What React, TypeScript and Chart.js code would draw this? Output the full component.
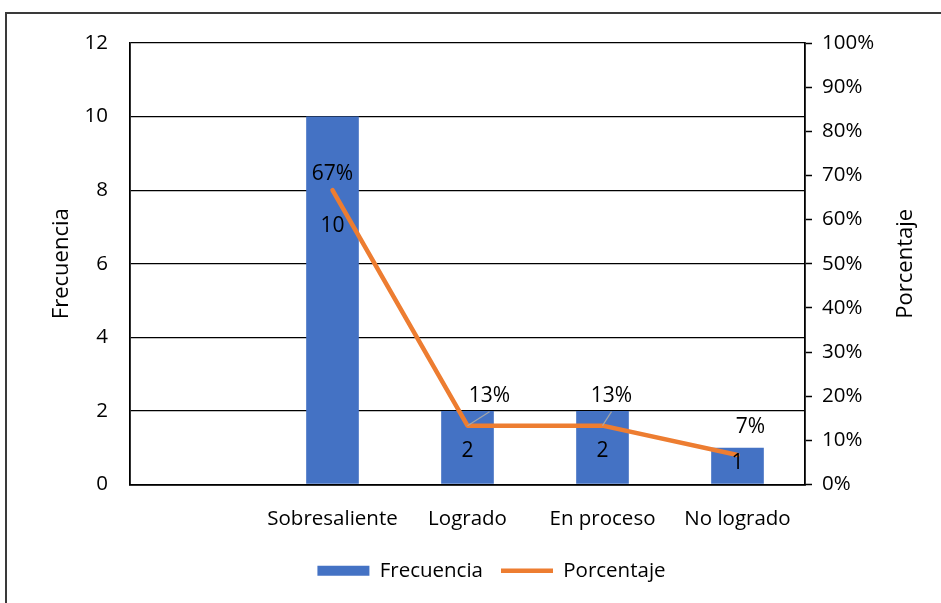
import { useEffect, useRef } from 'react';
import { Chart, registerables } from 'chart.js';

Chart.register(...registerables);

const categories = ['', 'Sobresaliente', 'Logrado', 'En proceso', 'No logrado'];
const frecuencia: (number | null)[] = [null, 10, 2, 2, 1];
const porcentaje: (number | null)[] = [null, 66.67, 13.33, 13.33, 6.67];
const freqAxis = { min: 0, max: 12, step: 2 };
const pctAxis = { min: 0, max: 100, step: 10 };
const rightTitle = 'Porcentaje';

const FONT = '"Open Sans", Lato, sans-serif';
const TICK_SIZE = 20.5;

const labelPlugin = {
  id: 'valueLabels',
  afterDatasetsDraw(chart: any, _args: any, opts: any) {
    const ctx = chart.ctx as CanvasRenderingContext2D;
    ctx.save();
    ctx.font = `21px ${FONT}`;
    ctx.fillStyle = '#000';
    ctx.textAlign = 'center';
    ctx.textBaseline = 'middle';
    const barMeta = chart.getDatasetMeta(0);
    barMeta.data.forEach((el: any, i: number) => {
      const v = frecuencia[i];
      if (v == null) return;
      const dy = opts.barDy[i] ?? 0;
      ctx.fillText(String(v), el.x, (el.y + el.base) / 2 + dy);
    });
    const lineMeta = chart.getDatasetMeta(1);
    lineMeta.data.forEach((el: any, i: number) => {
      const v = porcentaje[i];
      if (v == null) return;
      const [dx, dy] = opts.pctOffset[i];
      const lx = el.x + dx;
      const ly = el.y + dy;
      if (opts.leader[i]) {
        ctx.save();
        ctx.strokeStyle = '#A6A6A6';
        ctx.lineWidth = 1.2;
        ctx.beginPath();
        ctx.moveTo(el.x, el.y);
        ctx.lineTo(lx, ly + 16);
        ctx.stroke();
        ctx.restore();
      }
      ctx.fillText(Math.round(v) + '%', lx, ly);
    });
    // right axis title, reading bottom to top
    const s = chart.scales.y1;
    const ca = chart.chartArea;
    ctx.save();
    ctx.font = `22px ${FONT}`;
    ctx.translate(s.right - opts.rightTitleOffset, (ca.top + ca.bottom) / 2);
    ctx.rotate(-Math.PI / 2);
    ctx.fillText(rightTitle, 0, 0);
    ctx.restore();
    ctx.restore();
  },
};

export default function App() {
  const ref = useRef<HTMLCanvasElement | null>(null);

  useEffect(() => {
    document.body.style.margin = '0';
    document.body.style.overflow = 'hidden';
    Chart.defaults.font.family = FONT;
    Chart.defaults.color = '#000';
    const chart = new Chart(ref.current as HTMLCanvasElement, {
      type: 'bar',
      data: {
        labels: categories,
        datasets: [
          {
            type: 'bar',
            label: 'Frecuencia',
            data: frecuencia,
            backgroundColor: '#4472C4',
            borderWidth: 0,
            yAxisID: 'y',
            barPercentage: 0.39,
            categoryPercentage: 1,
            order: 1,
            pointStyle: 'rect',
          } as any,
          {
            type: 'line',
            label: 'Porcentaje',
            data: porcentaje,
            borderColor: '#ED7D31',
            backgroundColor: '#ED7D31',
            borderWidth: 4.5,
            borderCapStyle: 'round',
            borderJoinStyle: 'round',
            pointRadius: 0,
            pointHoverRadius: 0,
            pointStyle: 'line',
            yAxisID: 'y1',
            order: 0,
            tension: 0,
          } as any,
        ],
      },
      options: {
        animation: false,
        responsive: false,
        events: [],
        layout: { padding: { left: 42, right: 0, top: 43, bottom: 12 } },
        plugins: {
          legend: {
            position: 'bottom',
            labels: {
              usePointStyle: true,
              pointStyleWidth: 52,
              boxHeight: 10,
              padding: 18,
              font: { size: 20.5, family: FONT },
              color: '#000',
              sort: (a: any, b: any) => a.datasetIndex - b.datasetIndex,
            },
          },
          tooltip: { enabled: false },
          valueLabels: {
            barDy: [0, -74, 4, 4, -3],
            pctOffset: [[0, 0], [0, -16], [22, -30], [9, -30], [13, -28]],
            leader: [false, false, true, true, false],
            rightTitleOffset: 35,
          },
        } as any,
        scales: {
          x: {
            grid: { display: false, drawTicks: false },
            border: { display: true, color: '#000', width: 1.8 },
            ticks: {
              padding: 22,
              font: { size: TICK_SIZE },
              color: '#000',
              autoSkip: false,
              maxRotation: 0,
              minRotation: 0,
            },
            afterFit: (s: any) => { s.height = 58; },
          },
          y: {
            position: 'left',
            min: freqAxis.min,
            max: freqAxis.max,
            ticks: { stepSize: freqAxis.step, padding: 22, font: { size: TICK_SIZE }, color: '#000' },
            grid: { color: '#000', lineWidth: 1.3, drawTicks: false },
            border: { display: true, color: '#000', width: 1.8 },
            title: {
              display: true,
              text: 'Frecuencia',
              font: { size: 22 },
              color: '#000',
              padding: { top: 7, bottom: 0 },
            },
            afterFit: (s: any) => { s.width = 88; },
          },
          y1: {
            position: 'right',
            min: pctAxis.min,
            max: pctAxis.max,
            ticks: {
              stepSize: pctAxis.step,
              padding: 10,
              font: { size: TICK_SIZE },
              color: '#000',
              callback: (v: any) => v + '%',
            },
            grid: {
              drawOnChartArea: false,
              drawTicks: true,
              tickLength: 7,
              tickColor: '#000',
              tickWidth: 1.5,
            },
            border: { display: true, color: '#000', width: 1.8 },
            afterFit: (s: any) => { s.width = 136; },
          },
        },
      },
      plugins: [labelPlugin],
    });
    return () => chart.destroy();
  }, []);

  return (
    <div style={{ position: 'relative', width: 941, height: 603, overflow: 'hidden', background: '#fff' }}>
      <div
        style={{
          position: 'absolute',
          left: 5,
          top: 12,
          width: 1200,
          height: 1200,
          borderTop: '2px solid #3a3a3a',
          borderLeft: '2px solid #3a3a3a',
        }}
      />
      <canvas ref={ref} width={941} height={603} style={{ position: 'absolute', left: 0, top: 0, display: 'block' }} />
    </div>
  );
}
